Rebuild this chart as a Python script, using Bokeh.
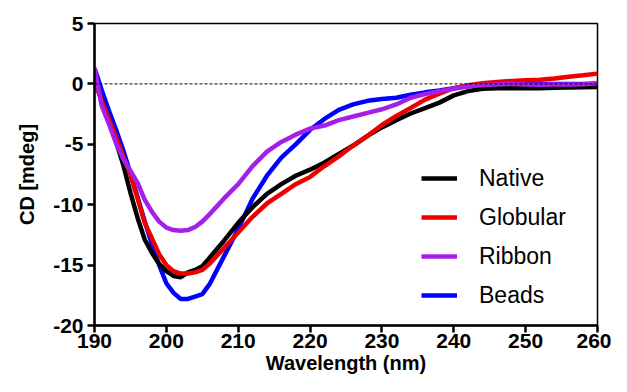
from bokeh.plotting import figure
from bokeh.models import Span, Legend, LegendItem, FixedTicker
from bokeh.embed import file_html
from bokeh.resources import INLINE

wavelength = [190, 191, 192, 193, 194, 195, 196, 197, 198, 199, 200, 201, 202, 203, 204, 205,
              206, 208, 210, 212, 214, 216, 218, 220, 222, 224, 226, 228, 230, 232, 234, 236,
              238, 240, 242, 244, 246, 248, 250, 252, 254, 256, 258, 260]

native = [0.3, -1.4, -3.0, -4.8, -6.7, -9.0, -11.1, -12.9, -14.0, -14.9, -15.5, -15.9, -16.0, -15.6,
          -15.4, -15.1, -14.4, -13.0, -11.5, -10.2, -9.1, -8.3, -7.6, -7.1, -6.5, -5.8, -5.1, -4.3,
          -3.6, -3.0, -2.45, -2.0, -1.55, -0.95, -0.6, -0.4, -0.36, -0.35, -0.36, -0.35, -0.32,
          -0.3, -0.28, -0.25]

globular = [0.3, -1.4, -2.9, -4.4, -6.0, -7.5, -9.5, -11.5, -12.8, -14.1, -15.0, -15.5, -15.7, -15.7,
            -15.6, -15.4, -14.9, -13.6, -12.3, -11.0, -9.9, -9.1, -8.3, -7.7, -6.8, -6.0, -5.1, -4.3,
            -3.4, -2.65, -2.0, -1.3, -0.8, -0.35, -0.1, 0.05, 0.15, 0.25, 0.3, 0.35, 0.45, 0.6,
            0.72, 0.85]

ribbon = [1.3, -1.8, -3.3, -4.9, -6.2, -7.2, -8.2, -9.6, -10.6, -11.4, -11.9, -12.1, -12.15, -12.1,
          -11.85, -11.4, -10.8, -9.5, -8.3, -6.8, -5.6, -4.8, -4.2, -3.7, -3.45, -3.0, -2.7, -2.4,
          -2.1, -1.7, -1.15, -0.85, -0.6, -0.4, -0.2, -0.1, -0.05, 0.0, -0.05, -0.08, -0.05,
          -0.05, -0.02, 0.05]

beads = [1.3, -0.5, -2.2, -3.8, -5.5, -7.4, -9.4, -11.4, -13.3, -15.0, -16.5, -17.3, -17.8, -17.8,
         -17.6, -17.4, -16.6, -14.3, -12.0, -9.5, -7.6, -6.1, -5.0, -3.8, -2.9, -2.15, -1.7, -1.4,
         -1.25, -1.15, -0.9, -0.7, -0.55, -0.35, -0.2, -0.1, -0.05, 0.0, 0.0, 0.0, 0.0, 0.0,
         0.0, 0.02]

x_ticks = [190, 200, 210, 220, 230, 240, 250, 260]
y_ticks = [-20, -15, -10, -5, 0, 5]
y_tick_labels = ["-20", "-15", "-10", "-5", "0", "5"]

p = figure(width=611, height=376, x_range=(190, 260), y_range=(-20, 5),
           output_backend="svg", toolbar_location=None,
           min_border_left=94, min_border_top=23, min_border_right=14, min_border_bottom=49)

p.xgrid.visible = False
p.ygrid.visible = False
p.outline_line_color = "black"
p.outline_line_width = 1.5
p.background_fill_color = "white"
p.border_fill_color = "white"

font = "Liberation Sans"
for ax in (p.xaxis[0], p.yaxis[0]):
    ax.axis_line_width = 2.5
    ax.axis_line_color = "black"
    ax.major_tick_line_width = 2.5
    ax.major_tick_out = 7
    ax.major_tick_in = 0
    ax.minor_tick_out = 0
    ax.minor_tick_in = 0
    ax.major_label_text_font = font
    ax.major_label_text_font_style = "bold"
    ax.major_label_text_font_size = "21px"
    ax.major_label_text_color = "black"
    ax.axis_label_text_font = font
    ax.axis_label_text_font_style = "bold"
    ax.axis_label_text_font_size = "20px"
    ax.axis_label_text_color = "black"

p.xaxis.ticker = FixedTicker(ticks=x_ticks)
p.yaxis.ticker = FixedTicker(ticks=y_ticks)
p.yaxis.major_label_overrides = {t: s for t, s in zip(y_ticks, y_tick_labels)}
p.xaxis.axis_label = "Wavelength (nm)"
p.yaxis.axis_label = "CD [mdeg]"
p.xaxis.major_label_standoff = 1
p.xaxis.axis_label_standoff = 1
p.yaxis.major_label_standoff = 4
p.yaxis.axis_label_standoff = 12

p.add_layout(Span(location=0, dimension="width", line_color="black",
                  line_width=1, line_dash="3 2"))

lw = 4.5
r_beads = p.line(wavelength, beads, line_color="#0000ff", line_width=lw)
r_native = p.line(wavelength, native, line_color="black", line_width=lw)
r_glob = p.line(wavelength, globular, line_color="#ee0000", line_width=lw)
r_rib = p.line(wavelength, ribbon, line_color="#a61fe8", line_width=lw)

legend = Legend(items=[LegendItem(label="Native", renderers=[r_native]),
                       LegendItem(label="Globular", renderers=[r_glob]),
                       LegendItem(label="Ribbon", renderers=[r_rib]),
                       LegendItem(label="Beads", renderers=[r_beads])],
                location=(327, 12), orientation="vertical",
                label_text_font=font, label_text_font_size="23px", label_text_color="black",
                glyph_width=36, glyph_height=36, label_height=36, label_standoff=22,
                spacing=3, padding=0, margin=0,
                border_line_color=None, background_fill_alpha=0)
p.add_layout(legend)

open("out.html", "w").write(file_html(p, INLINE))
